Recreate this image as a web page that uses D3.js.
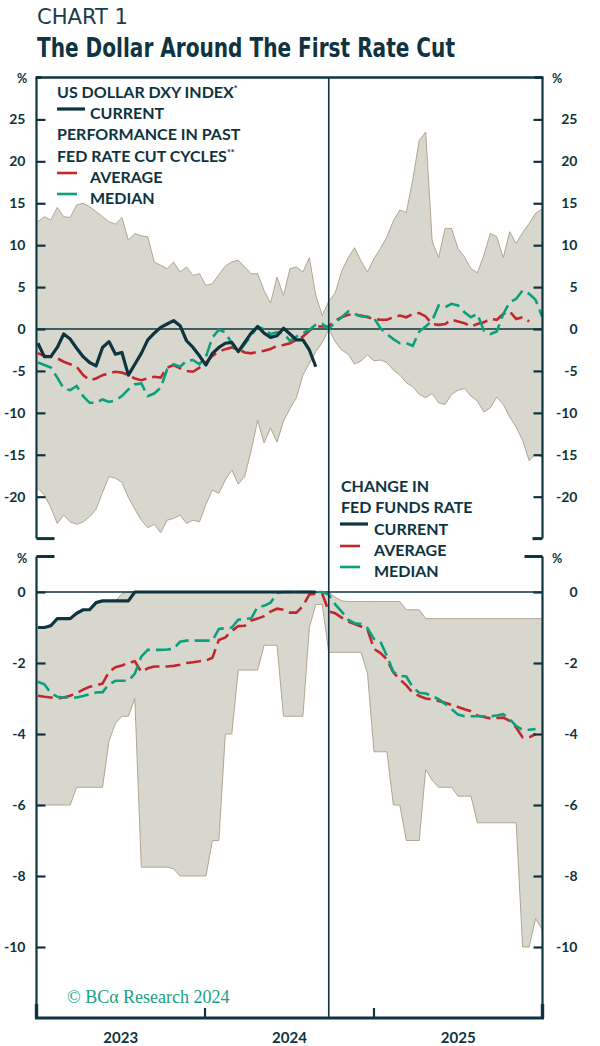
<!DOCTYPE html>
<html><head><meta charset="utf-8">
<script src="https://cdn.jsdelivr.net/npm/d3@7"></script>
<style>
body{margin:0;background:#fff}
svg{display:block}
</style>
</head><body>
<svg id="c" width="600" height="1046"></svg>
<script>
// ---------- DATA (biweekly observations, mapped onto the calendar axis) ----------
const startDate = "2023-01-04";
const stepDays = 14;
const cutDate = "2024-09-25";

// Top panel: US Dollar DXY index, % change
const dxyCurrent = [-1.7,-3.3,-3.3,-2.2,-0.6,-1.2,-2.3,-3.3,-4.0,-4.4,
  -2.2,-1.5,-3.0,-2.8,-5.5,-4.2,-2.9,-1.3,-0.5,0.2,
  0.6,1.0,0.4,-1.4,-2.2,-3.2,-4.3,-2.9,-2.2,-1.7,
  -1.6,-2.7,-1.6,-0.5,0.3,-0.5,-1.0,-0.8,0.1,-0.6,
  -1.3,-1.3,-2.5,-4.5];
const dxyAverage = [-2.9,-3.2,-3.3,-3.5,-3.9,-4.2,-4.5,-5.5,-6.1,-5.9,
  -5.5,-5.3,-5.1,-5.2,-5.5,-5.9,-6.1,-5.9,-5.7,-5.8,
  -4.6,-4.3,-4.7,-5.0,-5.1,-4.6,-4.0,-3.2,-2.7,-2.4,
  -2.2,-2.4,-2.8,-2.9,-2.7,-2.6,-2.4,-2.0,-1.9,-1.7,
  -1.3,-0.9,-0.2,0.3,0.3,0.3,1.0,1.4,1.7,1.7,
  1.6,1.4,1.2,1.1,1.1,1.4,1.6,1.4,1.8,1.9,
  1.5,0.6,0.5,0.6,1.1,0.9,0.7,0.3,0.6,0.8,
  1.2,1.1,1.8,2.1,1.2,1.4,0.9];
const dxyMedian = [-4.0,-4.3,-4.6,-5.8,-7.1,-7.3,-6.8,-8.0,-8.8,-8.8,
  -8.4,-8.7,-8.5,-8.0,-7.2,-6.6,-6.5,-8.0,-7.7,-7.0,
  -4.8,-4.2,-4.5,-3.8,-3.7,-4.2,-3.3,-1.0,-0.1,-0.4,
  -1.7,-2.8,-1.8,-0.8,0.3,0.0,-0.6,-0.4,-0.5,-1.4,
  -0.9,-0.5,-0.1,0.5,0.6,0.0,0.8,1.4,2.1,1.8,
  1.5,1.5,1.3,0.1,-0.6,-1.2,-1.7,-1.7,-2.0,-0.3,
  0.3,1.0,2.8,2.6,3.0,2.8,2.0,1.4,1.8,-0.2,
  -0.6,-0.3,1.8,3.2,3.6,4.6,4.2,3.5,1.5];
const dxyHigh = [12.8,13.4,13.0,14.5,13.4,13.3,14.8,15.0,14.6,14.0,
  13.4,12.8,12.5,13.3,10.6,11.4,11.1,11.0,8.0,7.6,
  7.2,8.0,6.8,7.4,6.4,6.6,5.2,5.4,6.5,7.5,
  8.0,8.2,7.4,6.6,6.6,4.6,3.1,6.2,4.0,7.2,
  7.4,6.8,8.5,4.0,1.6,3.3,4.3,6.9,8.5,9.7,
  8.1,6.8,8.4,9.6,11.0,12.9,14.2,13.9,17.8,22.5,
  23.5,10.5,8.5,12.0,12.0,9.6,8.6,7.2,6.7,8.8,
  11.4,11.0,8.5,11.6,10.2,11.5,12.6,13.8,14.3];
const dxyLow = [-19.0,-19.8,-21.3,-23.2,-22.2,-23.0,-23.3,-23.0,-22.4,-21.5,
  -19.5,-17.6,-17.8,-18.3,-20.1,-21.5,-22.8,-23.7,-23.3,-24.3,
  -22.8,-22.6,-22.2,-23.2,-22.8,-23.0,-20.9,-19.2,-19.6,-18.0,
  -16.8,-18.5,-17.6,-14.5,-10.9,-13.6,-11.8,-13.5,-11.0,-9.5,
  -8.2,-5.5,-4.1,-2.7,-1.6,0.0,-1.5,-2.5,-3.0,-4.2,
  -3.8,-3.1,-3.8,-3.7,-4.0,-4.9,-5.5,-6.4,-6.9,-7.8,
  -8.2,-7.7,-8.8,-9.0,-7.8,-7.3,-7.1,-8.0,-8.6,-9.9,
  -9.4,-8.1,-9.0,-10.5,-11.7,-13.3,-15.7,-14.9,-15.3];

// Bottom panel: change in fed funds rate, percentage points
const ffCurrent = [-1.0,-1.0,-0.95,-0.75,-0.75,-0.75,-0.6,-0.5,-0.5,-0.3,
  -0.25,-0.25,-0.25,-0.25,-0.25,0,0,0,0,0,
  0,0,0,0,0,0,0,0,0,0,
  0,0,0,0,0,0,0,0,0,0,
  0,0,0,0];
const ffAverage = [-2.92,-2.95,-2.97,-3.0,-2.97,-2.92,-2.85,-2.75,-2.67,-2.63,
  -2.58,-2.25,-2.12,-2.07,-2.0,-1.95,-2.25,-2.15,-2.1,-2.1,
  -2.1,-2.08,-2.05,-2.0,-1.98,-1.95,-1.93,-1.85,-1.35,-1.28,
  -1.1,-0.96,-0.95,-0.8,-0.75,-0.68,-0.55,-0.47,-0.5,-0.58,
  -0.58,-0.4,-0.07,-0.05,-0.05,-0.55,-0.6,-0.72,-0.83,-0.9,
  -0.97,-1.06,-1.6,-1.72,-1.9,-2.27,-2.46,-2.63,-2.84,-2.93,
  -3.0,-3.03,-3.07,-3.12,-3.18,-3.24,-3.3,-3.36,-3.48,-3.52,
  -3.56,-3.55,-3.54,-3.63,-3.82,-4.1,-4.1,-4.0];
const ffMedian = [-2.53,-2.6,-2.85,-2.95,-2.97,-2.97,-2.97,-2.93,-2.88,-2.83,
  -2.82,-2.6,-2.5,-2.5,-2.5,-2.3,-1.82,-1.63,-1.63,-1.63,
  -1.62,-1.6,-1.4,-1.37,-1.37,-1.37,-1.37,-1.37,-1.04,-1.02,
  -1.0,-0.78,-0.76,-0.74,-0.42,-0.39,-0.3,-0.03,0,0,
  0,0,0,0,0,-0.07,-0.35,-0.55,-0.78,-0.88,
  -0.9,-1.02,-1.32,-1.4,-1.8,-2.25,-2.36,-2.38,-2.68,-2.84,
  -2.86,-2.93,-3.02,-3.15,-3.3,-3.45,-3.5,-3.5,-3.5,-3.5,
  -3.5,-3.48,-3.44,-3.58,-3.78,-3.88,-3.88,-3.86];
const ffHigh = [-1.0,-1.0,-0.9,-0.75,-0.75,-0.75,-0.55,-0.5,-0.5,-0.3,
  -0.25,-0.25,-0.25,-0.05,0,0,0,0,0,0,
  0,0,0,0,0,0,0,0,0,0,
  0,0,0,0,0,0,0,0,0,0,
  0,0,0,0,0,0,-0.15,-0.25,-0.27,-0.27,
  -0.27,-0.27,-0.27,-0.27,-0.27,-0.27,-0.27,-0.5,-0.5,-0.5,
  -0.75,-0.75,-0.75,-0.75,-0.75,-0.75,-0.75,-0.75,-0.75,-0.75,
  -0.75,-0.75,-0.75,-0.75,-0.75,-0.75,-0.75,-0.75,-0.75];
const ffLow = [-6.0,-6.0,-6.0,-6.0,-6.0,-6.0,-5.5,-5.5,-5.5,-5.5,
  -5.5,-4.2,-3.7,-3.5,-3.5,-3.0,-7.75,-7.75,-7.75,-7.75,
  -7.75,-7.8,-8.0,-8.0,-8.0,-8.0,-8.0,-7.0,-7.0,-4.0,
  -4.0,-2.2,-2.2,-2.2,-2.2,-1.5,-1.5,-1.5,-3.5,-3.5,
  -3.5,-3.5,-1.0,-0.35,-0.35,-1.7,-1.7,-1.7,-1.7,-1.7,
  -1.7,-2.3,-4.5,-4.5,-4.5,-6.0,-6.0,-7.0,-7.0,-7.0,
  -5.0,-5.3,-5.5,-5.5,-5.5,-5.75,-5.75,-5.75,-6.5,-6.5,
  -6.5,-6.5,-6.5,-6.5,-6.5,-10.0,-10.0,-9.2,-9.5];

const topTicks = [25,20,15,10,5,0,-5,-10,-15,-20];
const bottomTicks = [0,-2,-4,-6,-8,-10];
const yearLabels = ["2023","2024","2025"];

// ---------- STYLE ----------
const INK = "#0e3440";
const RED = "#c1272d";
const GREEN = "#0ba07c";
const BAND = "#d7d7ce";
const BAND_EDGE = "#b3a590";
const SANS = "Lato, 'Noto Sans', sans-serif";

const svg = d3.select("#c");
const parse = d3.utcParse("%Y-%m-%d");
const t0 = parse(startDate);
const dateAt = i => d3.utcDay.offset(t0, i * stepDays);

const x = d3.scaleUtc().domain([parse("2023-01-01"), parse("2026-01-01")]).range([36.5, 542.5]);
const yTop = d3.scaleLinear().domain([30, -25]).range([77.5, 538.6]);
const yBot = d3.scaleLinear().domain([1, -12]).range([556.5, 1018]);

const L = x.range()[0], R = x.range()[1];

function pts(arr){ return arr.map((v,i)=>({date:dateAt(i), v})); }
function bandPts(hi, lo){ return hi.map((v,i)=>({date:dateAt(i), hi:v, lo:lo[i]})); }

function drawPanel(y, hi, lo, avg, med, cur, curW){
  const g = svg.append("g");
  const band = bandPts(hi, lo);
  g.append("path").datum(band)
    .attr("d", d3.area().x(d=>x(d.date)).y0(d=>y(d.lo)).y1(d=>y(d.hi)))
    .attr("fill", BAND);
  const edge = k => d3.line().x(d=>x(d.date)).y(d=>y(d[k]));
  g.append("path").datum(band).attr("d", edge("hi")).attr("fill","none").attr("stroke",BAND_EDGE).attr("stroke-width",1);
  g.append("path").datum(band).attr("d", edge("lo")).attr("fill","none").attr("stroke",BAND_EDGE).attr("stroke-width",1);
  // zero line
  g.append("line").attr("x1",L).attr("x2",R).attr("y1",y(0)).attr("y2",y(0))
    .attr("stroke",INK).attr("stroke-width",1.3);
  const line = d3.line().defined(d=>d.v!=null).x(d=>x(d.date)).y(d=>y(d.v));
  g.append("path").datum(pts(avg)).attr("d",line).attr("fill","none")
    .attr("stroke",RED).attr("stroke-width",2.6).attr("stroke-dasharray","15,6");
  g.append("path").datum(pts(med)).attr("d",line).attr("fill","none")
    .attr("stroke",GREEN).attr("stroke-width",2.6).attr("stroke-dasharray","15,6");
  g.append("path").datum(pts(cur)).attr("d",line).attr("fill","none")
    .attr("stroke",INK).attr("stroke-width",curW).attr("stroke-linejoin","round");
}

drawPanel(yTop, dxyHigh, dxyLow, dxyAverage, dxyMedian, dxyCurrent, 3.2);
drawPanel(yBot, ffHigh, ffLow, ffAverage, ffMedian, ffCurrent, 3.2);

// vertical first-cut line
svg.append("line").attr("x1",x(parse(cutDate))).attr("x2",x(parse(cutDate)))
  .attr("y1",77.5).attr("y2",1018).attr("stroke",INK).attr("stroke-width",1.6);

// ---------- AXES ----------
function styleAxis(sel){
  sel.select(".domain").remove();
  sel.selectAll(".tick line").attr("stroke",INK).attr("stroke-width",2.2);
  sel.selectAll(".tick text").attr("fill",INK).attr("font-family",SANS)
    .attr("font-weight",700).attr("font-size",14);
}
function yAxes(y, ticks, top, bottom){
  svg.append("g").attr("transform",`translate(${L},0)`)
    .call(d3.axisLeft(y).tickValues(ticks).tickSize(-9).tickPadding(11).tickFormat(d=>String(d)))
    .call(styleAxis);
  const ar = svg.append("g").attr("transform",`translate(${R},0)`)
    .call(d3.axisRight(y).tickValues(ticks).tickSize(-9).tickPadding(0).tickFormat(d=>String(d)))
    .call(styleAxis);
  ar.selectAll(".tick text").attr("text-anchor","end").attr("x",35);
  // axis lines
  [L,R].forEach(xx=>svg.append("line").attr("x1",xx).attr("x2",xx).attr("y1",top).attr("y2",bottom)
    .attr("stroke",INK).attr("stroke-width",2.2));
}
yAxes(yTop, topTicks, yTop(30), yTop(-25));
yAxes(yBot, bottomTicks, yBot(1), yBot(-12));

// top frame line
svg.append("line").attr("x1",L-1).attr("x2",R+1).attr("y1",yTop(30)).attr("y2",yTop(30))
  .attr("stroke",INK).attr("stroke-width",2.4);
// end ticks
const endTicks = [
  [L, L+18, yTop(-25)], [R-10, R, yTop(-25)],
  [L, L+18, yBot(1)], [R-18, R, yBot(1)],
  [L, L+5, yTop(30)], [R-8, R, yTop(30)]
];
endTicks.forEach(([a,b,yy])=>svg.append("line").attr("x1",a).attr("x2",b).attr("y1",yy).attr("y2",yy)
  .attr("stroke",INK).attr("stroke-width",3));

// x axis
const yx = yBot(-12);
svg.append("line").attr("x1",L-1.5).attr("x2",R+1.5).attr("y1",yx).attr("y2",yx)
  .attr("stroke",INK).attr("stroke-width",3);
const yearStarts = yearLabels.map(s=>parse(s+"-01-01"));
yearStarts.slice(1).forEach(d=>svg.append("line").attr("x1",x(d)).attr("x2",x(d))
  .attr("y1",yx-10).attr("y2",yx).attr("stroke",INK).attr("stroke-width",2.2));
[L,R].forEach(xx=>svg.append("line").attr("x1",xx).attr("x2",xx).attr("y1",yx-14).attr("y2",yx)
  .attr("stroke",INK).attr("stroke-width",3.4));
yearLabels.forEach(s=>{
  const mid = new Date((parse(s+"-01-01").getTime() + parse((+s+1)+"-01-01").getTime())/2);
  svg.append("text").attr("x",x(mid)).attr("y",1043).attr("text-anchor","middle")
    .attr("font-family",SANS).attr("font-weight",700).attr("font-size",15).attr("fill",INK).text(s);
});

// % unit labels
[[22,83],[557,83],[22,563],[557,563]].forEach(([xx,yy])=>
  svg.append("text").attr("x",xx).attr("y",yy).attr("text-anchor","middle")
    .attr("font-family",SANS).attr("font-weight",700).attr("font-size",12.5).attr("fill",INK).text("%"));

// ---------- TITLES ----------
svg.append("text").attr("x",37).attr("y",23.5).attr("font-family","'Liberation Sans Narrow','DejaVu Sans Condensed',sans-serif")
  .attr("font-size",22).attr("fill","#1d3c49").attr("textLength",91).attr("lengthAdjust","spacingAndGlyphs").text("CHART 1");
svg.append("text").attr("x",37).attr("y",57).attr("font-family","'Liberation Sans Narrow','DejaVu Sans Condensed',sans-serif")
  .attr("font-weight",700).attr("font-size",27).attr("fill","#0f3340")
  .attr("textLength",418).attr("lengthAdjust","spacingAndGlyphs").text("The Dollar Around The First Rate Cut");

// ---------- LEGENDS ----------
function txt(xx, yy, s, sup){
  const t = svg.append("text").attr("x",xx).attr("y",yy).attr("font-family",SANS)
    .attr("font-weight",700).attr("font-size",16).attr("fill",INK).text(s);
  if (sup) t.append("tspan").attr("font-size",9).attr("dy",-6).text(sup);
}
function sample(x1, x2, yy, color, w){
  svg.append("line").attr("x1",x1).attr("x2",x2).attr("y1",yy).attr("y2",yy)
    .attr("stroke",color).attr("stroke-width",w);
}
txt(57, 98, "US DOLLAR DXY INDEX", "*");
sample(57, 85, 109, INK, 3.2); txt(90, 119, "CURRENT");
txt(57, 140, "PERFORMANCE IN PAST");
txt(57, 162, "FED RATE CUT CYCLES", "**");
sample(57, 77, 173, RED, 2.6); txt(90, 183, "AVERAGE");
sample(57, 77, 194, GREEN, 2.6); txt(90, 204, "MEDIAN");

txt(341, 492, "CHANGE IN");
txt(341, 513, "FED FUNDS RATE");
sample(340, 368, 524, INK, 3.2); txt(374, 535, "CURRENT");
sample(340, 360, 546, RED, 2.6); txt(374, 556, "AVERAGE");
sample(340, 360, 567, GREEN, 2.6); txt(374, 577, "MEDIAN");

// copyright
svg.append("text").attr("x",67).attr("y",1003).attr("font-family","'Liberation Serif','DejaVu Serif',serif")
  .attr("font-size",18).attr("fill","#17a37f").text("© BCα Research 2024");
</script>
</body></html>
